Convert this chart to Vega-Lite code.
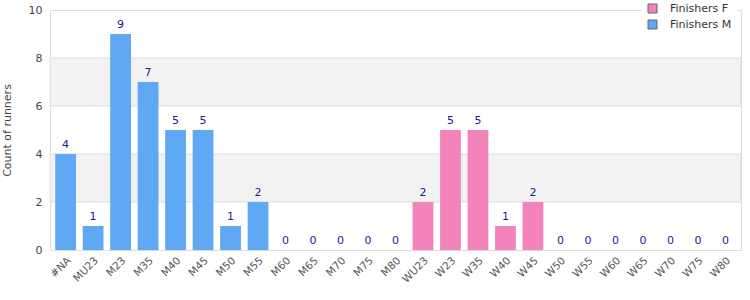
{
  "$schema": "https://vega.github.io/schema/vega-lite/v6.json",
  "width": 691,
  "height": 240,
  "autosize": {"type": "none"},
  "padding": {"left": 50, "top": 10, "right": 9, "bottom": 50},
  "background": "white",
  "config": {
    "font": "DejaVu Sans",
    "view": {"stroke": "#dddddd", "strokeWidth": 1}
  },
  "datasets": {
    "runners": [
      {"category": "#NA", "count": 4, "group": "Finishers M"},
      {"category": "MU23", "count": 1, "group": "Finishers M"},
      {"category": "M23", "count": 9, "group": "Finishers M"},
      {"category": "M35", "count": 7, "group": "Finishers M"},
      {"category": "M40", "count": 5, "group": "Finishers M"},
      {"category": "M45", "count": 5, "group": "Finishers M"},
      {"category": "M50", "count": 1, "group": "Finishers M"},
      {"category": "M55", "count": 2, "group": "Finishers M"},
      {"category": "M60", "count": 0, "group": "Finishers M"},
      {"category": "M65", "count": 0, "group": "Finishers M"},
      {"category": "M70", "count": 0, "group": "Finishers M"},
      {"category": "M75", "count": 0, "group": "Finishers M"},
      {"category": "M80", "count": 0, "group": "Finishers M"},
      {"category": "WU23", "count": 2, "group": "Finishers F"},
      {"category": "W23", "count": 5, "group": "Finishers F"},
      {"category": "W35", "count": 5, "group": "Finishers F"},
      {"category": "W40", "count": 1, "group": "Finishers F"},
      {"category": "W45", "count": 2, "group": "Finishers F"},
      {"category": "W50", "count": 0, "group": "Finishers F"},
      {"category": "W55", "count": 0, "group": "Finishers F"},
      {"category": "W60", "count": 0, "group": "Finishers F"},
      {"category": "W65", "count": 0, "group": "Finishers F"},
      {"category": "W70", "count": 0, "group": "Finishers F"},
      {"category": "W75", "count": 0, "group": "Finishers F"},
      {"category": "W80", "count": 0, "group": "Finishers F"}
    ],
    "bands": [
      {"lo": 2, "hi": 4},
      {"lo": 6, "hi": 8}
    ]
  },
  "layer": [
    {
      "data": {"name": "bands"},
      "mark": {"type": "rect", "fill": "#f2f2f2", "stroke": "#dddddd", "strokeWidth": 1},
      "encoding": {
        "y": {"field": "lo", "type": "quantitative", "scale": {"domain": [0, 10]}},
        "y2": {"field": "hi"}
      }
    },
    {
      "data": {"name": "runners"},
      "mark": {"type": "bar"},
      "encoding": {
        "x": {
          "field": "category",
          "type": "nominal",
          "sort": null,
          "scale": {"paddingInner": 0.244, "paddingOuter": 0.19},
          "axis": {
            "title": null,
            "labelAngle": -45,
            "labelFontSize": 10.5,
            "labelColor": "#555555",
            "ticks": false,
            "domain": false,
            "labelPadding": 5
          }
        },
        "y": {
          "field": "count",
          "type": "quantitative",
          "scale": {"domain": [0, 10]},
          "axis": {
            "title": "Count of runners",
            "titleFontSize": 11,
            "titleFontWeight": "normal",
            "titleColor": "#444444",
            "titlePadding": 16,
            "labelFontSize": 11,
            "labelColor": "#444444",
            "values": [0, 2, 4, 6, 8, 10],
            "grid": false,
            "ticks": false,
            "domain": false,
            "labelPadding": 8
          }
        },
        "color": {
          "field": "group",
          "type": "nominal",
          "scale": {"domain": ["Finishers F", "Finishers M"], "range": ["#f384bb", "#61a8f4"]},
          "legend": {
            "title": null,
            "orient": "none",
            "legendX": 592,
            "legendY": -12,
            "fillColor": "white",
            "padding": 5,
            "symbolType": "square",
            "symbolSize": 81,
            "symbolStrokeColor": "#666666",
            "symbolStrokeWidth": 1,
            "labelFontSize": 11,
            "labelColor": "#333333",
            "labelOffset": 12,
            "rowPadding": 3
          }
        }
      }
    },
    {
      "data": {"name": "runners"},
      "mark": {"type": "text", "baseline": "bottom", "dy": -4, "fontSize": 11, "color": "#1c1c8c"},
      "encoding": {
        "x": {"field": "category", "type": "nominal", "sort": null},
        "y": {"field": "count", "type": "quantitative"},
        "text": {"field": "count", "type": "quantitative"}
      }
    }
  ]
}
